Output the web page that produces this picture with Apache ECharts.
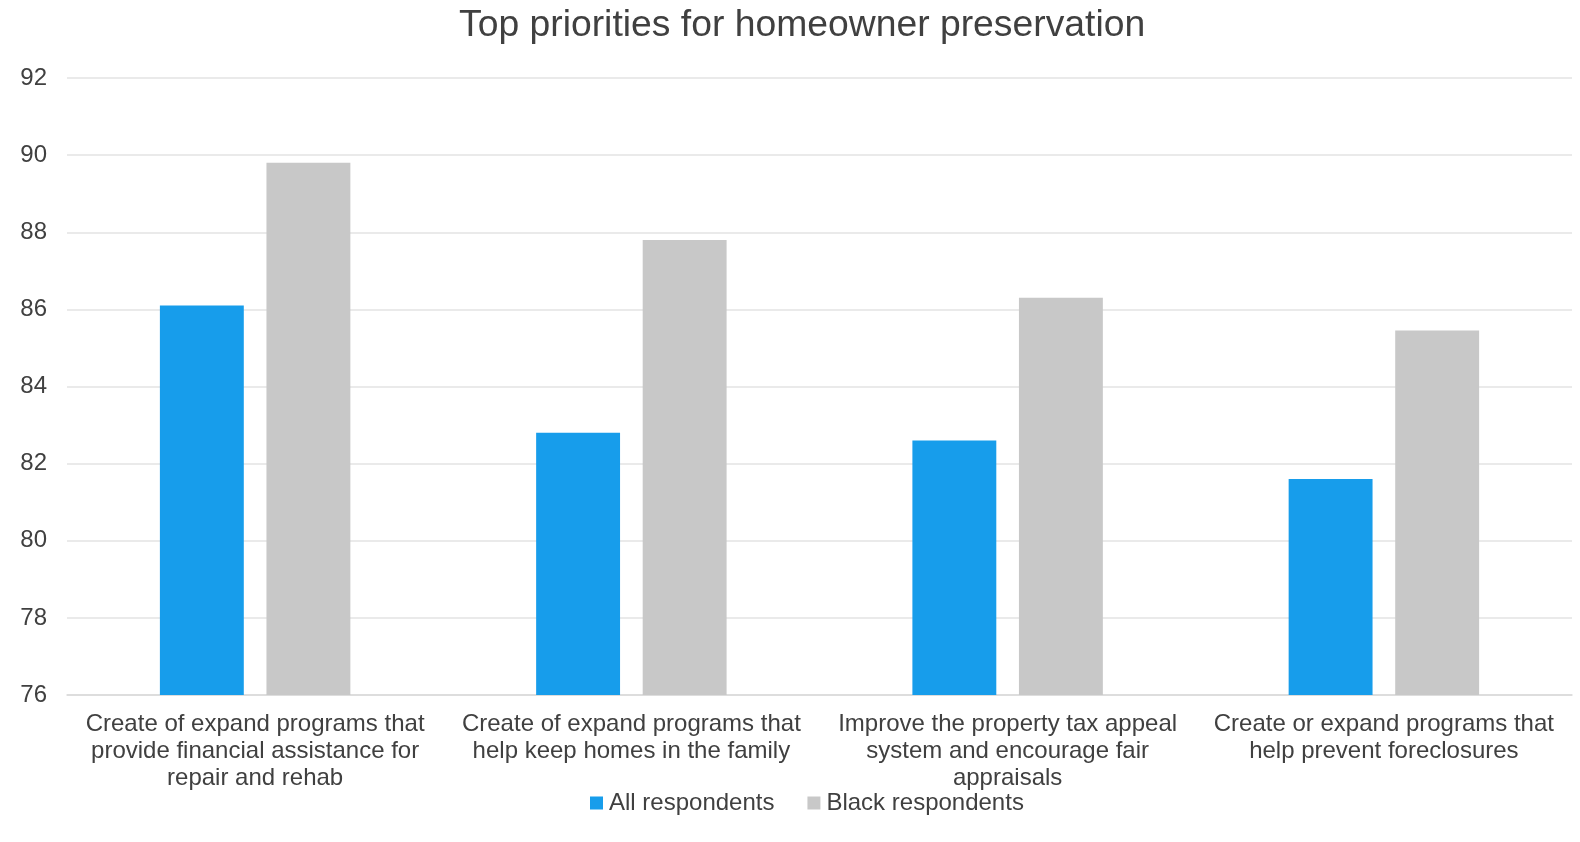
<!DOCTYPE html>
<html>
<head>
<meta charset="utf-8">
<script src="https://cdn.jsdelivr.net/npm/echarts@6/dist/echarts.min.js"></script>
<style>
html,body{margin:0;padding:0;background:#fff;}
#c{width:1580px;height:842px;}
</style>
</head>
<body>
<div id="c"></div>
<script>
const categories = [
  "Create of expand programs that\nprovide financial assistance for\nrepair and rehab",
  "Create of expand programs that\nhelp keep homes in the family",
  "Improve the property tax appeal\nsystem and encourage fair\nappraisals",
  "Create or expand programs that\nhelp prevent foreclosures"
];
const allRespondents = [86.1, 82.8, 82.6, 81.6];
const blackRespondents = [89.8, 87.8, 86.3, 85.45];
const seriesNames = ["All respondents", "Black respondents"];
const yMin = 76, yMax = 92, yStep = 2;

const font = "Liberation Sans, Arial, sans-serif";
const chart = echarts.init(document.getElementById('c'));
chart.setOption({
  animation: false,
  title: {
    text: "Top priorities for homeowner preservation",
    left: 454,
    top: 2,
    textStyle: { fontFamily: font, fontSize: 37.3, fontWeight: 'normal', color: '#404040' }
  },
  legend: {
    top: 786,
    left: 585,
    itemWidth: 13,
    itemHeight: 13,
    itemGap: 33,
    icon: 'rect',
    textStyle: { fontFamily: font, fontSize: 24, color: '#404040', padding: [0, 0, 0, 1] },
    data: seriesNames
  },
  grid: { left: 67, right: 8, top: 78, bottom: 147 },
  xAxis: {
    type: 'category',
    data: categories,
    axisTick: { show: false },
    axisLine: { lineStyle: { color: '#d9d9d9', width: 1.5 } },
    axisLabel: { fontFamily: font, fontSize: 24, color: '#404040', lineHeight: 27, margin: 16, interval: 0 }
  },
  yAxis: {
    type: 'value',
    min: yMin, max: yMax, interval: yStep,
    axisLine: { show: false },
    axisTick: { show: false },
    splitLine: { lineStyle: { color: '#e3e3e3', width: 1.5 } },
    axisLabel: { fontFamily: font, fontSize: 24, color: '#404040', margin: 20 }
  },
  series: [
    { name: seriesNames[0], type: 'bar', data: allRespondents, barWidth: '22.3%', barGap: '27%',
      itemStyle: { color: '#179DEB' } },
    { name: seriesNames[1], type: 'bar', data: blackRespondents, barWidth: '22.3%',
      itemStyle: { color: '#C8C8C8' } }
  ]
});
</script>
</body>
</html>
